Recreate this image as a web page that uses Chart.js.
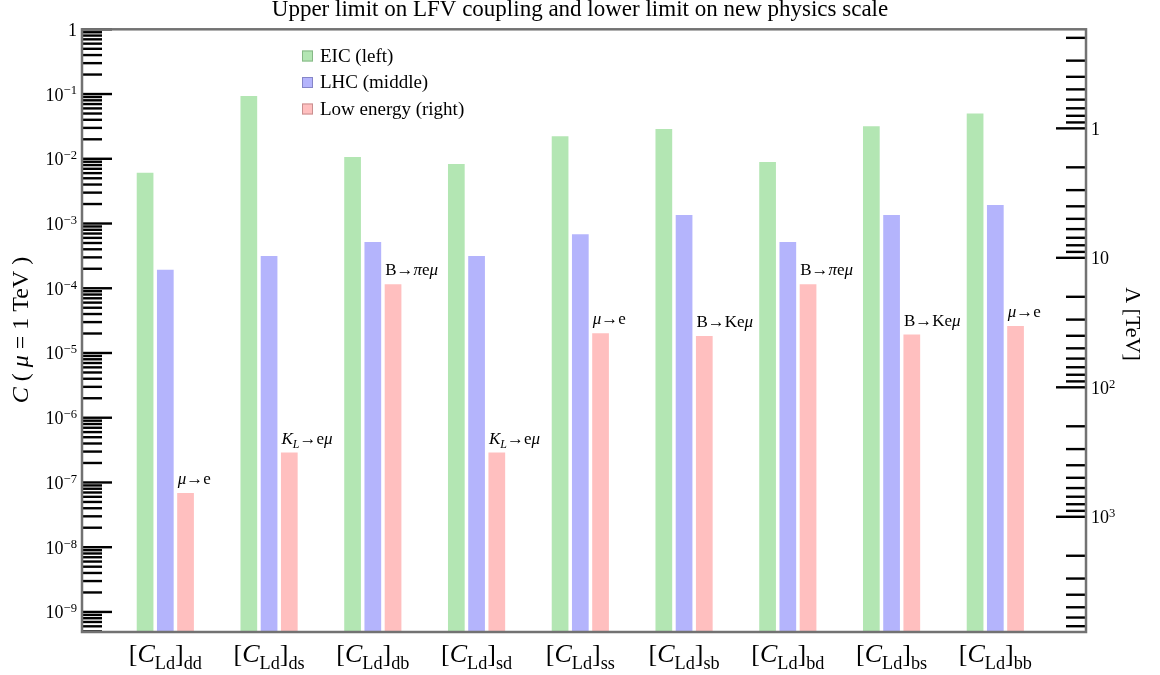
<!DOCTYPE html>
<html>
<head>
<meta charset="utf-8">
<script src="https://cdn.jsdelivr.net/npm/chart.js@4.4.1/dist/chart.umd.min.js"></script>
<style>
  body { margin: 0; background: #fff; }
  #wrap { width: 1160px; height: 675px; position: relative; }
</style>
</head>
<body>
<div id="wrap"><canvas id="myChart"></canvas></div>
<script>
// coupling flavour indices (x categories)
const categories = ['dd', 'ds', 'db', 'sd', 'ss', 'sb', 'bd', 'bs', 'bb'];

// upper limits on C (mu = 1 TeV)
const eic = [6.3e-3, 0.097, 0.011, 8.6e-3, 0.023, 0.030, 9.2e-3, 0.033, 0.052];
const lhc = [2.0e-4, 3.25e-4, 5.35e-4, 3.25e-4, 7.1e-4, 1.4e-3, 5.35e-4, 1.4e-3, 2.0e-3];
const lowEnergy = [7.1e-8, 3.0e-7, 1.2e-4, 3.0e-7, 2.1e-5, 1.9e-5, 1.2e-4, 2.0e-5, 2.7e-5];

// process giving the low energy bound (segments: text, style)
const processes = [
  [['μ', 'i'], ['→e', 'n']],
  [['K', 'i'], ['L', 'is'], ['→e', 'n'], ['μ', 'i']],
  [['B→', 'n'], ['π', 'i'], ['e', 'n'], ['μ', 'i']],
  [['K', 'i'], ['L', 'is'], ['→e', 'n'], ['μ', 'i']],
  [['μ', 'i'], ['→e', 'n']],
  [['B→Ke', 'n'], ['μ', 'i']],
  [['B→', 'n'], ['π', 'i'], ['e', 'n'], ['μ', 'i']],
  [['B→Ke', 'n'], ['μ', 'i']],
  [['μ', 'i'], ['→e', 'n']]
];

// axis ranges
const cMin = 4.9e-10, cMax = 1;
const c0 = Math.pow(10, -1.53);           // C at Lambda = 1 TeV
const lamMin = Math.sqrt(c0 / cMax), lamMax = Math.sqrt(c0 / cMin);
const leftDecades = [-9, -8, -7, -6, -5, -4, -3, -2, -1, 0];
const rightDecades = [0, 1, 2, 3];

const serif = '"Liberation Serif", "Times New Roman", serif';

function fontFor(st, size) {
  const small = st.includes('s') || st.includes('u');
  const sz = small ? size * 0.7 : size;
  return (st.includes('i') ? 'italic ' : '') + sz + 'px ' + serif;
}

function drawRich(ctx, segs, x, y, size, align) {
  let w = 0;
  for (const s of segs) { ctx.font = fontFor(s[1], size); w += ctx.measureText(s[0]).width; }
  let cx = align === 'center' ? x - w / 2 : align === 'right' ? x - w : x;
  for (const s of segs) {
    ctx.font = fontFor(s[1], size);
    let dy = 0;
    if (s[1].includes('s')) dy = size * 0.28;
    if (s[1].includes('u')) dy = -size * 0.34;
    ctx.fillText(s[0], cx, y + dy);
    cx += ctx.measureText(s[0]).width;
  }
}

function sup(n) {
  return String(n).replace('-', '−');
}

const decor = {
  id: 'decor',
  afterDatasetsDraw(chart) {
    const ctx = chart.ctx;
    const area = chart.chartArea;
    const y = chart.scales.y, y2 = chart.scales.y2, x = chart.scales.x;
    ctx.save();
    ctx.fillStyle = '#000';
    ctx.textBaseline = 'alphabetic';

    // low energy process labels above the red bars
    const meta = chart.getDatasetMeta(2);
    meta.data.forEach((bar, i) => {
      drawRich(ctx, processes[i], bar.x - bar.width / 2 + 1.5, bar.y - 8, 17, 'left');
    });

    // inward tick marks
    ctx.strokeStyle = '#000';
    ctx.lineWidth = 2.4;
    for (let e = -10; e <= 0; e++) {
      for (let m = 1; m <= 9; m++) {
        const v = m * Math.pow(10, e);
        if (v < cMin || v > cMax * 1.0001) continue;
        const py = y.getPixelForValue(v);
        ctx.beginPath();
        ctx.moveTo(area.left, py);
        ctx.lineTo(area.left + (m === 1 ? 30 : 20), py);
        ctx.stroke();
      }
    }
    for (let e = -1; e <= 3; e++) {
      for (let m = 1; m <= 9; m++) {
        const v = m * Math.pow(10, e);
        if (v < lamMin || v > lamMax) continue;
        const py = y2.getPixelForValue(v);
        ctx.beginPath();
        ctx.moveTo(area.right, py);
        ctx.lineTo(area.right - (m === 1 ? 30 : 20), py);
        ctx.stroke();
      }
    }

    // frame
    ctx.strokeStyle = '#727272';
    ctx.lineWidth = 2.5;
    ctx.strokeRect(area.left, area.top, area.right - area.left, area.bottom - area.top);

    // tick labels
    leftDecades.forEach(e => {
      const py = y.getPixelForValue(Math.pow(10, e));
      const segs = e === 0 ? [['1', 'n']] : [['10', 'n'], [sup(e), 'u']];
      drawRich(ctx, segs, area.left - 5, py + 6.5, 18, 'right');
    });
    rightDecades.forEach(e => {
      const py = y2.getPixelForValue(Math.pow(10, e));
      const segs = e === 0 ? [['1', 'n']] : e === 1 ? [['10', 'n']] : [['10', 'n'], [sup(e), 'u']];
      drawRich(ctx, segs, area.right + 5, py + 6.5, 18, 'left');
    });

    // category labels [C_Ld]_ij
    categories.forEach((c, i) => {
      const px = x.getPixelForValue(i);
      drawRich(ctx, [['[', 'n'], ['C', 'i'], ['Ld', 's'], [']', 'n'], [c, 's']], px, 662, 26, 'center');
    });

    // axis titles
    ctx.save();
    ctx.translate(20, 330);
    ctx.rotate(-Math.PI / 2);
    drawRich(ctx, [['C', 'i'], [' ( ', 'n'], ['μ', 'i'], [' = 1 TeV )', 'n']], 0, 8, 24, 'center');
    ctx.restore();
    ctx.save();
    ctx.translate(1133, 324);
    ctx.rotate(Math.PI / 2);
    drawRich(ctx, [['Λ [TeV]', 'n']], 0, 7.5, 22, 'center');
    ctx.restore();

    // legend
    const edges = ['#86b886', '#8585c8', '#c88f8f'];
    chart.data.datasets.forEach((ds, i) => {
      const ly = 56 + i * 26.5;
      ctx.fillStyle = ds.backgroundColor;
      ctx.fillRect(302, ly - 5.5, 11, 11);
      ctx.strokeStyle = edges[i];
      ctx.lineWidth = 1;
      ctx.strokeRect(302.5, ly - 5, 10, 10);
      ctx.fillStyle = '#000';
      ctx.font = '19px ' + serif;
      ctx.textBaseline = 'middle';
      ctx.fillText(ds.label, 320, ly + 1);
      ctx.textBaseline = 'alphabetic';
    });
    ctx.restore();
  }
};

const toXY = arr => arr.map((v, i) => ({ x: i, y: v }));

new Chart(document.querySelector('#myChart'), {
  type: 'bar',
  data: {
    datasets: [
      { label: 'EIC (left)', data: toXY(eic), backgroundColor: 'rgb(179, 230, 179)' },
      { label: 'LHC (middle)', data: toXY(lhc), backgroundColor: 'rgb(180, 180, 252)' },
      { label: 'Low energy (right)', data: toXY(lowEnergy), backgroundColor: 'rgb(255, 191, 191)' }
    ]
  },
  options: {
    responsive: true,
    maintainAspectRatio: false,
    animation: false,
    layout: { padding: 0 },
    datasets: {
      bar: {
        categoryPercentage: 0.585,
        barPercentage: 0.925,
        borderWidth: 1,
        borderColor: 'rgba(255, 255, 255, 0.35)'
      }
    },
    plugins: {
      legend: { display: false },
      tooltip: { enabled: false },
      title: {
        display: true,
        text: 'Upper limit on LFV coupling and lower limit on new physics scale',
        color: '#000',
        font: { family: serif, size: 23, weight: 'normal', lineHeight: 0.9 },
        padding: { top: 0, bottom: 8.6 }
      }
    },
    scales: {
      x: {
        type: 'linear',
        offset: false,
        bounds: 'data',
        min: -0.803,
        max: 8.874,
        grid: { display: false },
        border: { display: false },
        ticks: { display: false },
        afterBuildTicks: s => { s.ticks = categories.map((c, i) => ({ value: i })); },
        afterFit: s => { s.height = 43; }
      },
      y: {
        type: 'logarithmic',
        position: 'left',
        bounds: 'data',
        min: cMin,
        max: cMax,
        grid: { display: false },
        border: { display: false },
        ticks: { display: false },
        afterFit: s => { s.width = 82; }
      },
      y2: {
        type: 'logarithmic',
        position: 'right',
        reverse: true,
        bounds: 'data',
        min: lamMin,
        max: lamMax,
        grid: { display: false },
        border: { display: false },
        ticks: { display: false },
        afterFit: s => { s.width = 74; }
      }
    }
  },
  plugins: [decor]
});
</script>
</body>
</html>
